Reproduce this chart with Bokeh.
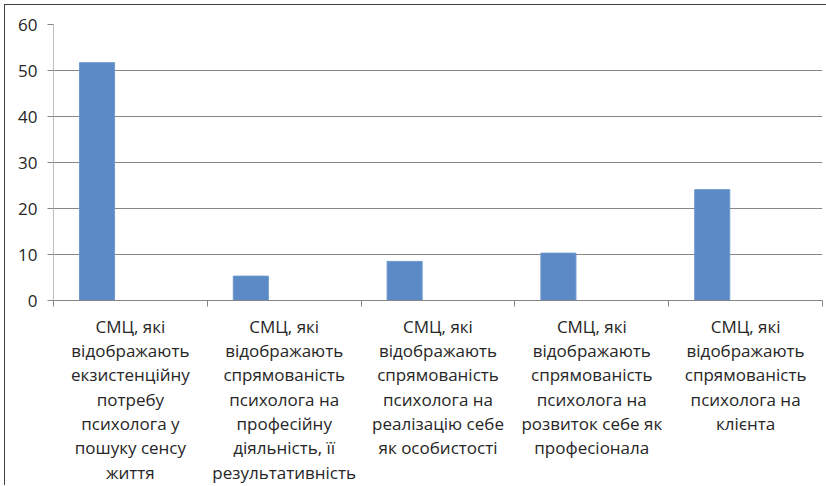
from bokeh.plotting import figure
from bokeh.models import Range1d, FixedTicker, ColumnDataSource
from bokeh.embed import file_html
from bokeh.resources import INLINE

categories = [
    "СМЦ, які\nвідображають\nекзистенційну\nпотребу\nпсихолога у\nпошуку сенсу\nжиття",
    "СМЦ, які\nвідображають\nспрямованість\nпсихолога на\nпрофесійну\nдіяльність, її\nрезультативність",
    "СМЦ, які\nвідображають\nспрямованість\nпсихолога на\nреалізацію себе\nяк особистості",
    "СМЦ, які\nвідображають\nспрямованість\nпсихолога на\nрозвиток себе як\nпрофесіонала",
    "СМЦ, які\nвідображають\nспрямованість\nпсихолога на\nклієнта",
]
values = [51.7, 5.3, 8.5, 10.3, 24.1]
y_ticks = [0, 10, 20, 30, 40, 50, 60]

FONT = "Open Sans"
n = len(categories)
idx = list(range(n))
bar_offset = 0.283
source = ColumnDataSource(dict(x=[i + bar_offset for i in idx], top=values))

p = figure(width=822, height=481, output_backend="svg", toolbar_location=None,
           x_range=Range1d(0, n), y_range=Range1d(0, 60),
           min_border_left=48, min_border_top=19, min_border_right=5, min_border_bottom=185,
           margin=(4, 0, 0, 4))
p.styles = {"border-top": "1px solid #404040", "border-left": "1px solid #404040"}
p.outline_line_color = None
p.background_fill_color = "white"
p.border_fill_color = "white"

p.vbar(x="x", top="top", width=0.228, source=source,
       fill_color="#5B8AC6", line_color="#6E98CC", line_width=1)

# y axis
p.yaxis.ticker = FixedTicker(ticks=y_ticks)
p.yaxis.axis_line_color = "#BDBDBD"
p.yaxis.major_tick_line_color = "#868686"
p.yaxis.major_tick_out = 6
p.yaxis.major_tick_in = 0
p.yaxis.minor_tick_line_color = None
p.yaxis.major_label_standoff = 10
p.yaxis.major_label_text_font = FONT
p.yaxis.major_label_text_font_size = "17px"
p.yaxis.major_label_text_color = "#262626"

p.ygrid.ticker = FixedTicker(ticks=y_ticks)
p.ygrid.grid_line_color = "#868686"
p.xgrid.grid_line_color = None

# x axis
centers = [i + 0.5 for i in idx]
bounds = [float(i) for i in range(n + 1)]
p.xaxis.ticker = FixedTicker(ticks=centers, minor_ticks=bounds)
p.xaxis.major_label_overrides = {c: lab for c, lab in zip(centers, categories)}
p.xaxis.axis_line_color = "#868686"
p.xaxis.major_tick_line_color = None
p.xaxis.major_tick_out = 0
p.xaxis.major_tick_in = 0
p.xaxis.minor_tick_line_color = "#868686"
p.xaxis.minor_tick_out = 6
p.xaxis.minor_tick_in = 0
p.xaxis.major_label_standoff = 8
p.xaxis.major_label_text_font = FONT
p.xaxis.major_label_text_font_size = "17px"
p.xaxis.major_label_text_color = "#262626"
p.xaxis.major_label_text_line_height = 1.06

open("out.html", "w").write(file_html(p, INLINE))
